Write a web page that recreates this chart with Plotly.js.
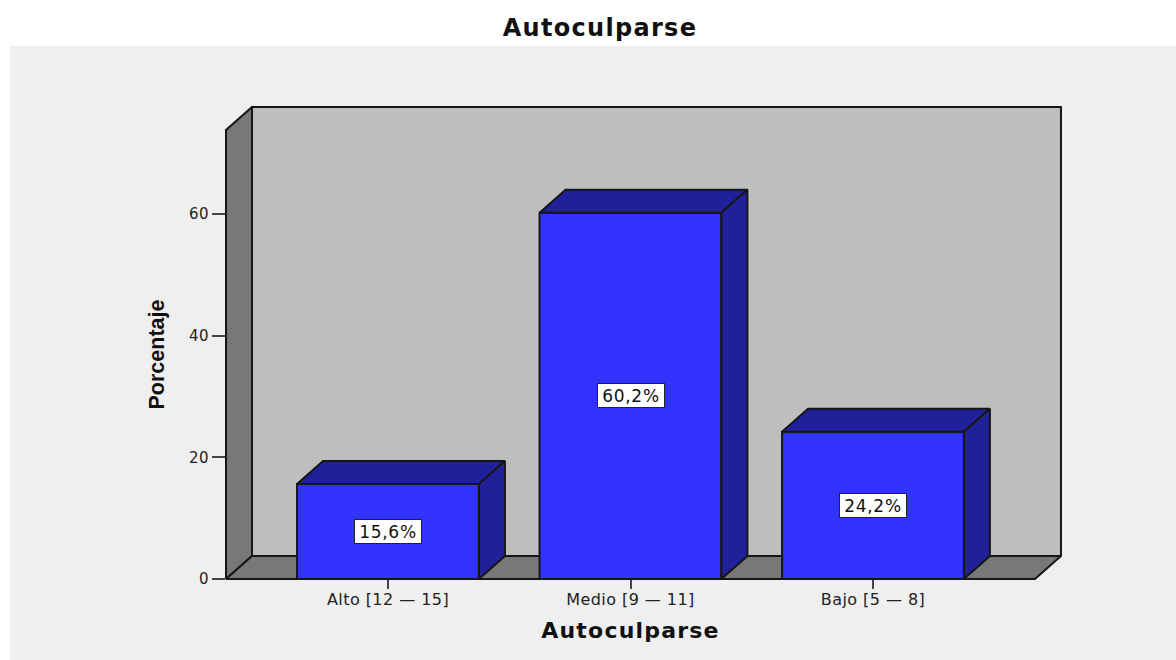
<!DOCTYPE html>
<html><head><meta charset="utf-8">
<script src="https://cdn.plot.ly/plotly-3.0.1.min.js"></script>
<style>html,body{margin:0;padding:0;background:#fff}#c{width:1176px;height:660px}
.xtick text,.ytick text{letter-spacing:.45px}
text.annotation-text{letter-spacing:.7px}
.gtitle{letter-spacing:1.3px}
.xtitle{letter-spacing:1.2px}
</style>
</head><body><div id="c"></div>
<script>
const categories = ["Alto [12 — 15]", "Medio [9 — 11]", "Bajo [5 — 8]"];
const values = [15.6, 60.2, 24.2];
const valueLabels = ["15,6%", "60,2%", "24,2%"];
const yTicks = [0, 20, 40, 60];
const chartTitle = "Autoculparse";
const xTitle = "Autoculparse";
const yTitle = "Porcentaje";

const xMin = -0.668, xMax = 2.668, yMax = 73.8;
const viewX = [-0.6845, 2.7918], viewY = [-0.658, 78.25];
const depthX = 0.1072, depthY = 3.78, barHalf = 0.375;
const ink = "#161616", textInk = "#222222";
const font = "DejaVu Sans, Verdana, sans-serif";
const narrow = "Liberation Sans, Arial, sans-serif";

function poly(pts, fill, front) {
  const closed = pts.concat([pts[0]]);
  return {
    type: "scatter", mode: "lines", x: closed.map(p => p[0]), y: closed.map(p => p[1]),
    fill: "toself", fillcolor: fill, line: {color: ink, width: 2, shape: "linear"},
    hoverinfo: "skip", showlegend: false,
    xaxis: front ? "x3" : "x2", yaxis: front ? "y3" : "y2"
  };
}

const idx = categories.map((_, i) => i);
const traces = [
  poly([[xMin + depthX, depthY], [xMax + depthX, depthY], [xMax + depthX, yMax + depthY], [xMin + depthX, yMax + depthY]], "#bebebe"),
  poly([[xMin, 0], [xMin + depthX, depthY], [xMin + depthX, yMax + depthY], [xMin, yMax]], "#787878"),
  poly([[xMin, 0], [xMax, 0], [xMax + depthX, depthY], [xMin + depthX, depthY]], "#787878"),
  {
    type: "bar", x: idx, y: values, width: barHalf * 2, xaxis: "x3", yaxis: "y3",
    marker: {color: "#3333ff", line: {color: ink, width: 2}},
    hoverinfo: "skip", showlegend: false
  }
];
idx.forEach(i => {
  const l = i - barHalf, r = i + barHalf, v = values[i];
  traces.push(poly([[l, v], [r, v], [r + depthX, v + depthY], [l + depthX, v + depthY]], "#20209a", true));
  traces.push(poly([[r, 0], [r + depthX, depthY], [r + depthX, v + depthY], [r, v]], "#20209a", true));
});

const layout = {
  width: 1176, height: 660,
  margin: {l: 222, r: 111, t: 103, b: 77, pad: 0},
  paper_bgcolor: "#ffffff", plot_bgcolor: "rgba(0,0,0,0)",
  showlegend: false, bargap: 0,
  title: {text: "<b>" + chartTitle + "</b>", x: 600 / 1176, xref: "container", xanchor: "center",
          y: 1 - 27.5 / 660, yanchor: "middle", font: {family: font, size: 24, color: "#111"}},
  xaxis: {
    type: "linear", range: [xMin, xMax], domain: [4 / 843, 813 / 843], anchor: "y",
    tickmode: "array", tickvals: idx, ticktext: categories, ticklabelstandoff: -3,
    ticks: "outside", ticklen: 9, tickwidth: 2, tickcolor: "#444", showgrid: false, zeroline: false,
    showline: false, tickfont: {family: font, size: 16, color: textInk},
    title: {text: "<b>" + xTitle + "</b>", standoff: 14, font: {family: font, size: 22, color: "#111"}}
  },
  yaxis: {
    type: "linear", range: [0, yMax], domain: [4 / 480, 453 / 480], anchor: "x",
    tickmode: "array", tickvals: yTicks,
    ticks: "outside", ticklen: 13, tickwidth: 2, tickcolor: "#444", showgrid: false, zeroline: false,
    showline: false, tickfont: {family: font, size: 15, color: textInk},
    title: {text: "<b>" + yTitle + "</b>", standoff: 18, font: {family: narrow, size: 21.5, color: "#111"}}
  },
  xaxis2: {domain: [0, 1], anchor: "y2", visible: false, range: viewX},
  yaxis2: {domain: [0, 1], anchor: "x2", visible: false, range: viewY},
  xaxis3: {domain: [0, 1], anchor: "y3", overlaying: "x2", visible: false, range: viewX},
  yaxis3: {domain: [0, 1], anchor: "x3", overlaying: "y2", visible: false, range: viewY},
  shapes: [{
    type: "rect", xref: "paper", yref: "paper", layer: "below",
    x0: (10 - 222) / 843, x1: (1176 - 222) / 843, y0: (583 - 660) / 480, y1: (583 - 46) / 480,
    fillcolor: "#efefef", line: {width: 0}
  }],
  annotations: idx.map(i => ({
    x: i, y: values[i] / 2, xref: "x", yref: "y", text: valueLabels[i], showarrow: false,
    font: {family: font, size: 17, color: "#111"}, bgcolor: "#ffffff",
    bordercolor: "#222", borderwidth: 1, borderpad: 2, width: 62, height: 19
  }))
};
Plotly.newPlot("c", traces, layout, {displayModeBar: false, staticPlot: true});
</script></body></html>
